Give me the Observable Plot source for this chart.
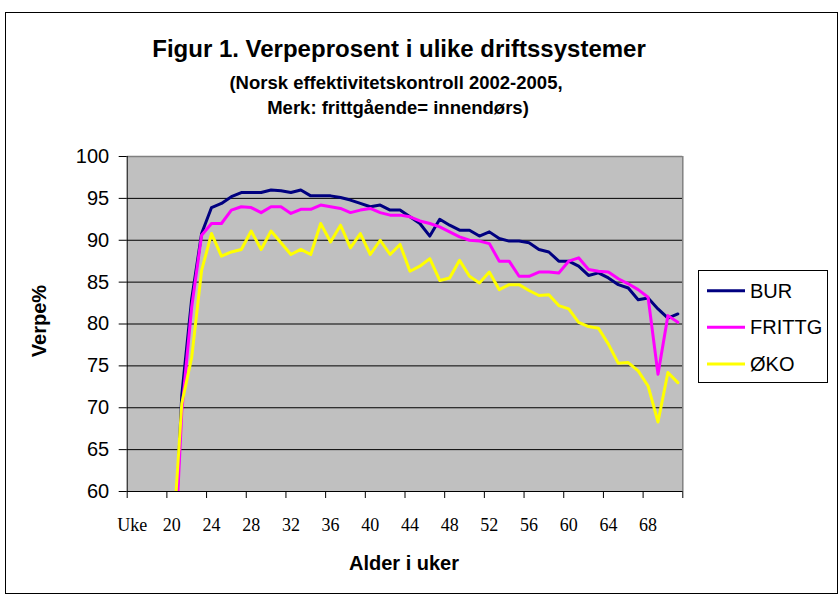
<!DOCTYPE html>
<html>
<head>
<meta charset="utf-8">
<script src="https://cdn.jsdelivr.net/npm/d3@7"></script>
<script src="https://cdn.jsdelivr.net/npm/@observablehq/plot@0.6"></script>
<style>
  html, body { margin: 0; padding: 0; background: #fff; }
  #wrap { position: relative; width: 840px; height: 595px; overflow: hidden; }
  #wrap svg { position: absolute; left: 0; top: 0; }
</style>
</head>
<body>
<div id="wrap"></div>
<script>
// ---- data ----
const weeks = [20,21,22,23,24,25,26,27,28,29,30,31,32,33,34,35,36,37,38,39,40,41,42,43,44,45,
               46,47,48,49,50,51,52,53,54,55,56,57,58,59,60,61,62,63,64,65,66,67,68,69,70,71];
const bur = [46,71.5,83,90.8,93.9,94.4,95.2,95.7,95.7,95.7,96.0,95.9,95.7,96.0,95.3,95.3,95.3,95.1,94.8,94.4,
             94.0,94.2,93.6,93.6,92.8,92.0,90.5,92.5,91.8,91.2,91.2,90.5,91.0,90.2,89.9,89.9,89.7,88.9,88.6,87.5,
             87.5,86.9,85.8,86.1,85.5,84.7,84.3,82.9,83.1,81.8,80.7,81.2];
const frittg = [45,69.5,82,90.6,92.0,92.0,93.6,94.0,93.9,93.3,94.0,94.0,93.2,93.7,93.7,94.2,94.0,93.8,93.3,93.6,
                93.8,93.3,93.0,93.0,92.8,92.3,92.0,91.6,91.0,90.4,90.0,89.9,89.6,87.5,87.5,85.7,85.7,86.2,86.2,86.1,
                87.5,87.9,86.5,86.3,86.2,85.4,84.8,84.1,83.2,74.0,81.0,80.2];
const oko = [52,70.5,76,86.4,90.8,88.1,88.6,88.9,91.1,88.9,91.1,89.7,88.3,88.9,88.3,92.0,89.8,91.8,89.1,90.8,
             88.3,90.0,88.3,89.5,86.3,86.9,87.8,85.2,85.5,87.6,85.7,84.9,86.2,84.1,84.7,84.7,84.0,83.4,83.5,82.2,
             81.8,80.2,79.7,79.5,77.6,75.3,75.4,74.4,72.6,68.3,74.2,73.0];
const seriesNames = ["BUR", "FRITTG", "ØKO"];
const seriesColors = ["#000080", "#ff00ff", "#ffff00"];
const yTicks = [60,65,70,75,80,85,90,95,100];
const xTickBounds = [15.5,19.5,23.5,27.5,31.5,35.5,39.5,43.5,47.5,51.5,55.5,59.5,63.5,67.5,71.5];
const xLabelPos = [16,20,24,28,32,36,40,44,48,52,56,60,64,68];
const xLabelText = ["Uke","20","24","28","32","36","40","44","48","52","56","60","64","68"];
const titleText = "Figur 1. Verpeprosent i ulike driftssystemer";
const subtitle1 = "(Norsk effektivitetskontroll 2002-2005,";
const subtitle2 = "Merk: frittgående= innendørs)";
const yLabel = "Verpe%";
const xLabel = "Alder i uker";

// ---- table ----
const rows = weeks.map((w, i) => ({week: w, BUR: bur[i], FRITTG: frittg[i], "ØKO": oko[i]}));

const plotLeft = 126.7, plotTop = 156, plotRight = 682.3, plotBottom = 491;

const chart = Plot.plot({
  width: 840,
  height: 595,
  marginLeft: plotLeft,
  marginTop: plotTop,
  marginRight: 840 - plotRight,
  marginBottom: 595 - plotBottom,
  style: {background: "transparent", fontFamily: "'Liberation Sans', Arial, sans-serif", color: "#000"},
  x: {domain: [15.5, 71.5]},
  y: {domain: [60, 100]},
  marks: [
    Plot.frame({fill: "#c0c0c0", stroke: null}),
    Plot.gridY(yTicks.filter(v => v > 60 && v < 100), {stroke: "#000", strokeOpacity: 1, strokeWidth: 1}),
    Plot.ruleY([100], {stroke: "#808080", strokeWidth: 1.5}),
    Plot.ruleX([71.5], {stroke: "#808080", strokeWidth: 1.5}),
    ...seriesNames.map((s, i) => Plot.line(rows, {x: "week", y: s, stroke: seriesColors[i], strokeWidth: 3, clip: true})),
    Plot.ruleX([15.5], {stroke: "#000", strokeWidth: 1}),
    Plot.ruleY([60], {stroke: "#000", strokeWidth: 1}),
    Plot.axisY(yTicks, {tickSize: 8, tickPadding: 10, fontSize: 20, label: null, stroke: "#000"}),
    Plot.axisX(xTickBounds, {tickSize: 7, tickFormat: () => "", label: null, stroke: "#000"}),
    Plot.axisX(xLabelPos, {tickSize: 0, tickPadding: 27, fontSize: 18,
      fontFamily: "'Liberation Serif', 'Times New Roman', serif",
      tickFormat: d => xLabelText[xLabelPos.indexOf(d)], label: null})
  ]
});

const wrap = document.getElementById("wrap");
wrap.appendChild(chart);

// ---- overlay: border, titles, axis titles, legend ----
const ov = d3.select(wrap).append("svg")
  .attr("width", 840).attr("height", 595)
  .style("pointer-events", "none")
  .attr("font-family", "'Liberation Sans', Arial, sans-serif");

ov.append("rect").attr("x", 5.5).attr("y", 12.5).attr("width", 832).attr("height", 581)
  .attr("fill", "none").attr("stroke", "#000").attr("stroke-width", 1);

ov.append("text").attr("x", 399).attr("y", 57).attr("text-anchor", "middle")
  .attr("font-size", 24).attr("font-weight", "bold").text(titleText);
ov.append("text").attr("x", 396).attr("y", 89).attr("text-anchor", "middle")
  .attr("font-size", 18.5).attr("font-weight", "bold").text(subtitle1);
ov.append("text").attr("x", 398).attr("y", 114).attr("text-anchor", "middle")
  .attr("font-size", 18.5).attr("font-weight", "bold").text(subtitle2);

ov.append("text").attr("transform", "translate(46,321) rotate(-90)").attr("text-anchor", "middle")
  .attr("font-size", 20).attr("font-weight", "bold").text(yLabel);
ov.append("text").attr("x", 404).attr("y", 570).attr("text-anchor", "middle")
  .attr("font-size", 20).attr("font-weight", "bold").text(xLabel);

const lg = ov.append("g");
lg.append("rect").attr("x", 698.5).attr("y", 270.5).attr("width", 129).attr("height", 112)
  .attr("fill", "#fff").attr("stroke", "#000").attr("stroke-width", 1);
seriesNames.forEach((s, i) => {
  const cy = 290.7 + i * 36.6;
  lg.append("line").attr("x1", 707).attr("x2", 745).attr("y1", cy).attr("y2", cy)
    .attr("stroke", seriesColors[i]).attr("stroke-width", 3);
  lg.append("text").attr("x", 750).attr("y", cy + 7).attr("font-size", 20).text(s);
});
</script>
</body>
</html>
